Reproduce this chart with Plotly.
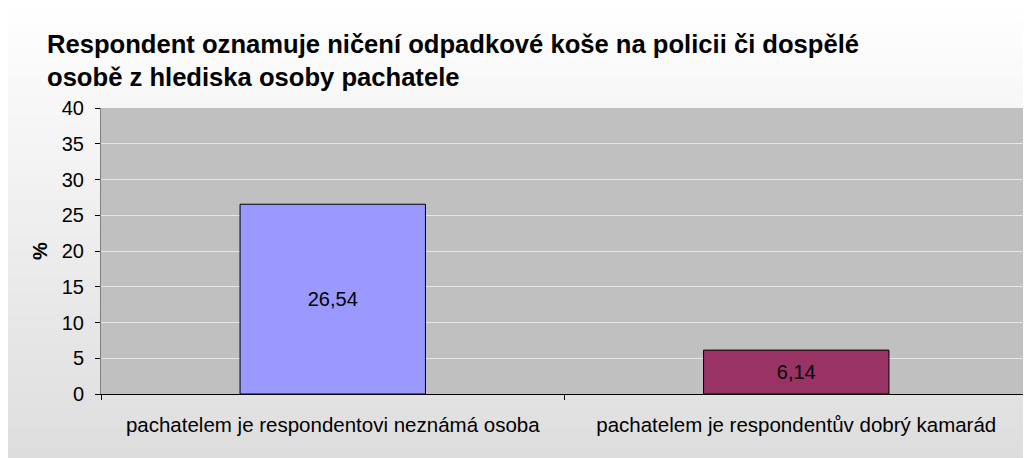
import plotly.graph_objects as go

# ---- data ----
categories = ["pachatelem je respondentovi neznámá osoba",
              "pachatelem je respondentův dobrý kamarád"]
values = [26.54, 6.14]
value_labels = ["26,54", "6,14"]
bar_colors = ["#9999FF", "#993366"]
y_ticks = [0, 5, 10, 15, 20, 25, 30, 35, 40]
title_lines = ["Respondent oznamuje ničení odpadkové koše na policii či dospělé",
               "osobě z hlediska osoby pachatele"]
y_title = "%"

# the page body has an 8px default margin; work in screen pixels and shift
OFF = 8
SW, SH = 1031, 458                 # screen size
W, H = SW - OFF, SH - OFF          # figure size
L, R, T, B = 101, 1028, 108, 394   # plot area in screen pixels
FONT = "Liberation Sans, Arial, sans-serif"


def px_x(x):
    return (x - L) / (R - L)


def px_y(y):
    return (B - y) / (B - T)


fig = go.Figure()
fig.add_trace(go.Bar(
    x=categories, y=values,
    marker=dict(color=bar_colors, line=dict(color="#000000", width=1)),
    text=value_labels, textposition="inside", insidetextanchor="middle",
    textfont=dict(family=FONT, size=20, color="#000000"),
    width=0.4, hoverinfo="skip",
))

# background gradient (white at top to light grey at bottom)
shapes = []
n = 115
for i in range(n):
    y0 = SH * i / n
    y1 = SH * (i + 1) / n
    c = round(255 - (255 - 221) * (i + 0.5) / n)
    col = f"rgb({c},{c},{c})"
    shapes.append(dict(type="rect", xref="paper", yref="paper",
                       x0=px_x(6), x1=px_x(SW + 2), y0=px_y(y1 + 0.5), y1=px_y(y0),
                       fillcolor=col, line=dict(width=0), layer="below"))
# plot area
shapes.append(dict(type="rect", xref="paper", yref="paper", x0=0, x1=1, y0=0, y1=1,
                   fillcolor="#C0C0C0", line=dict(width=0), layer="below"))
# right border of plot area
shapes.append(dict(type="line", xref="paper", yref="paper", x0=1, x1=1, y0=0, y1=1,
                   line=dict(color="#808080", width=1)))

annotations = [
    dict(text="<b>%s</b>" % title_lines[0], xref="paper", yref="paper",
         x=px_x(45), y=px_y(44), xanchor="left", yanchor="middle", showarrow=False,
         font=dict(family=FONT, size=25.6, color="#000000")),
    dict(text="<b>%s</b>" % title_lines[1], xref="paper", yref="paper",
         x=px_x(45), y=px_y(77), xanchor="left", yanchor="middle", showarrow=False,
         font=dict(family=FONT, size=25.6, color="#000000")),
    dict(text="<b>%s</b>" % y_title, xref="paper", yref="paper",
         x=px_x(40), y=px_y(251), xanchor="center", yanchor="middle", showarrow=False,
         textangle=-90, font=dict(family=FONT, size=20, color="#000000")),
]

fig.update_layout(
    width=W, height=H,
    margin=dict(l=L - OFF, r=SW - R, t=T - OFF, b=SH - B, pad=0),
    paper_bgcolor="#FFFFFF", plot_bgcolor="#C0C0C0",
    showlegend=False, bargap=0.6,
    shapes=shapes, annotations=annotations,
    font=dict(family=FONT, size=20, color="#000000"),
)
fig.update_xaxes(
    type="category", showgrid=False, showline=True, linecolor="#000000", linewidth=1,
    ticks="outside", tickson="boundaries", ticklen=5, tickcolor="#000000",
    tickfont=dict(family=FONT, size=20.5, color="#000000"), ticklabelstandoff=12,
)
fig.update_yaxes(
    range=[0, 40], tickvals=y_ticks, ticktext=[str(v) for v in y_ticks],
    showgrid=True, gridcolor="#E6E6E6", gridwidth=1,
    showline=True, linecolor="#808080", linewidth=1, zeroline=False,
    ticks="outside", ticklen=5, tickcolor="#000000",
    tickfont=dict(family=FONT, size=20, color="#000000"), ticklabelstandoff=7,
)

fig.write_html("out.html")
